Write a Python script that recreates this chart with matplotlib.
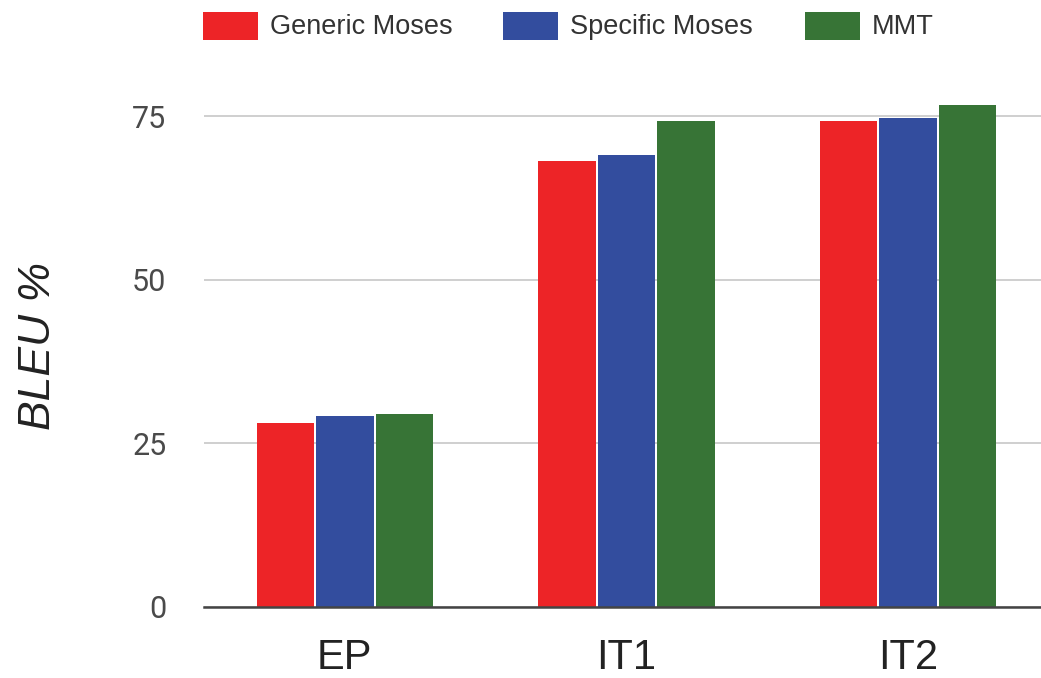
import matplotlib
matplotlib.use("Agg")
import matplotlib.pyplot as plt
import numpy as np
from matplotlib.patches import Rectangle

categories = ["EP", "IT1", "IT2"]
series_names = ["Generic Moses", "Specific Moses", "MMT"]
generic = [28.2, 68.1, 74.3]
specific = [29.2, 69.1, 74.7]
mmt = [29.5, 74.3, 76.8]
yticks = [0, 25, 50, 75]
colors = ["#ED2427", "#334D9E", "#377436"]

W, H = 1041, 678
fig = plt.figure(figsize=(W / 100, H / 100), dpi=100)
ax = fig.add_axes([204 / W, 71 / H, 845 / W, (607 - 83.6) / H])

x = np.arange(len(categories))
bw = 0.204
for i, (vals, c) in enumerate(zip([generic, specific, mmt], colors)):
    ax.bar(x + (i - 1) * 0.211, vals, width=bw, color=c, zorder=3, linewidth=0)

ax.set_xlim(-0.5, 2.5)
ax.set_ylim(0, 80)
ax.set_yticks(yticks)
ax.set_yticklabels([str(v) for v in yticks], fontsize=22, color="#4a4a4a", family="Roboto")
ax.yaxis.grid(True, color="#cccccc", linewidth=1.3, zorder=0)
ax.set_xticks(x)
ax.set_xticklabels(categories, fontsize=30, color="#222222", family="Liberation Sans")
ax.tick_params(axis="both", length=0)
ax.tick_params(axis="y", pad=27)
ax.tick_params(axis="x", pad=22)
for s in ["top", "right", "left"]:
    ax.spines[s].set_visible(False)
ax.spines["bottom"].set_color("#444444")
ax.spines["bottom"].set_linewidth(1.8)
ax.spines["bottom"].set_zorder(4)

fig.text(38 / W, 1 - 346 / H, "BLEU %", rotation=90, fontsize=32, style="italic",
         family="Liberation Sans", color="#222222", ha="center", va="center")

# legend
sw_x = [203, 503, 805]
for name, c, sx in zip(series_names, colors, sw_x):
    fig.patches.append(Rectangle((sx / W, 1 - 40 / H), 55 / W, 28 / H, transform=fig.transFigure,
                                 facecolor=c, edgecolor="none"))
    fig.text((sx + 67) / W, 1 - 27 / H, name, fontsize=19.5, family="Liberation Sans", color="#333333",
             ha="left", va="center")

fig.savefig("out.png", dpi=100)
